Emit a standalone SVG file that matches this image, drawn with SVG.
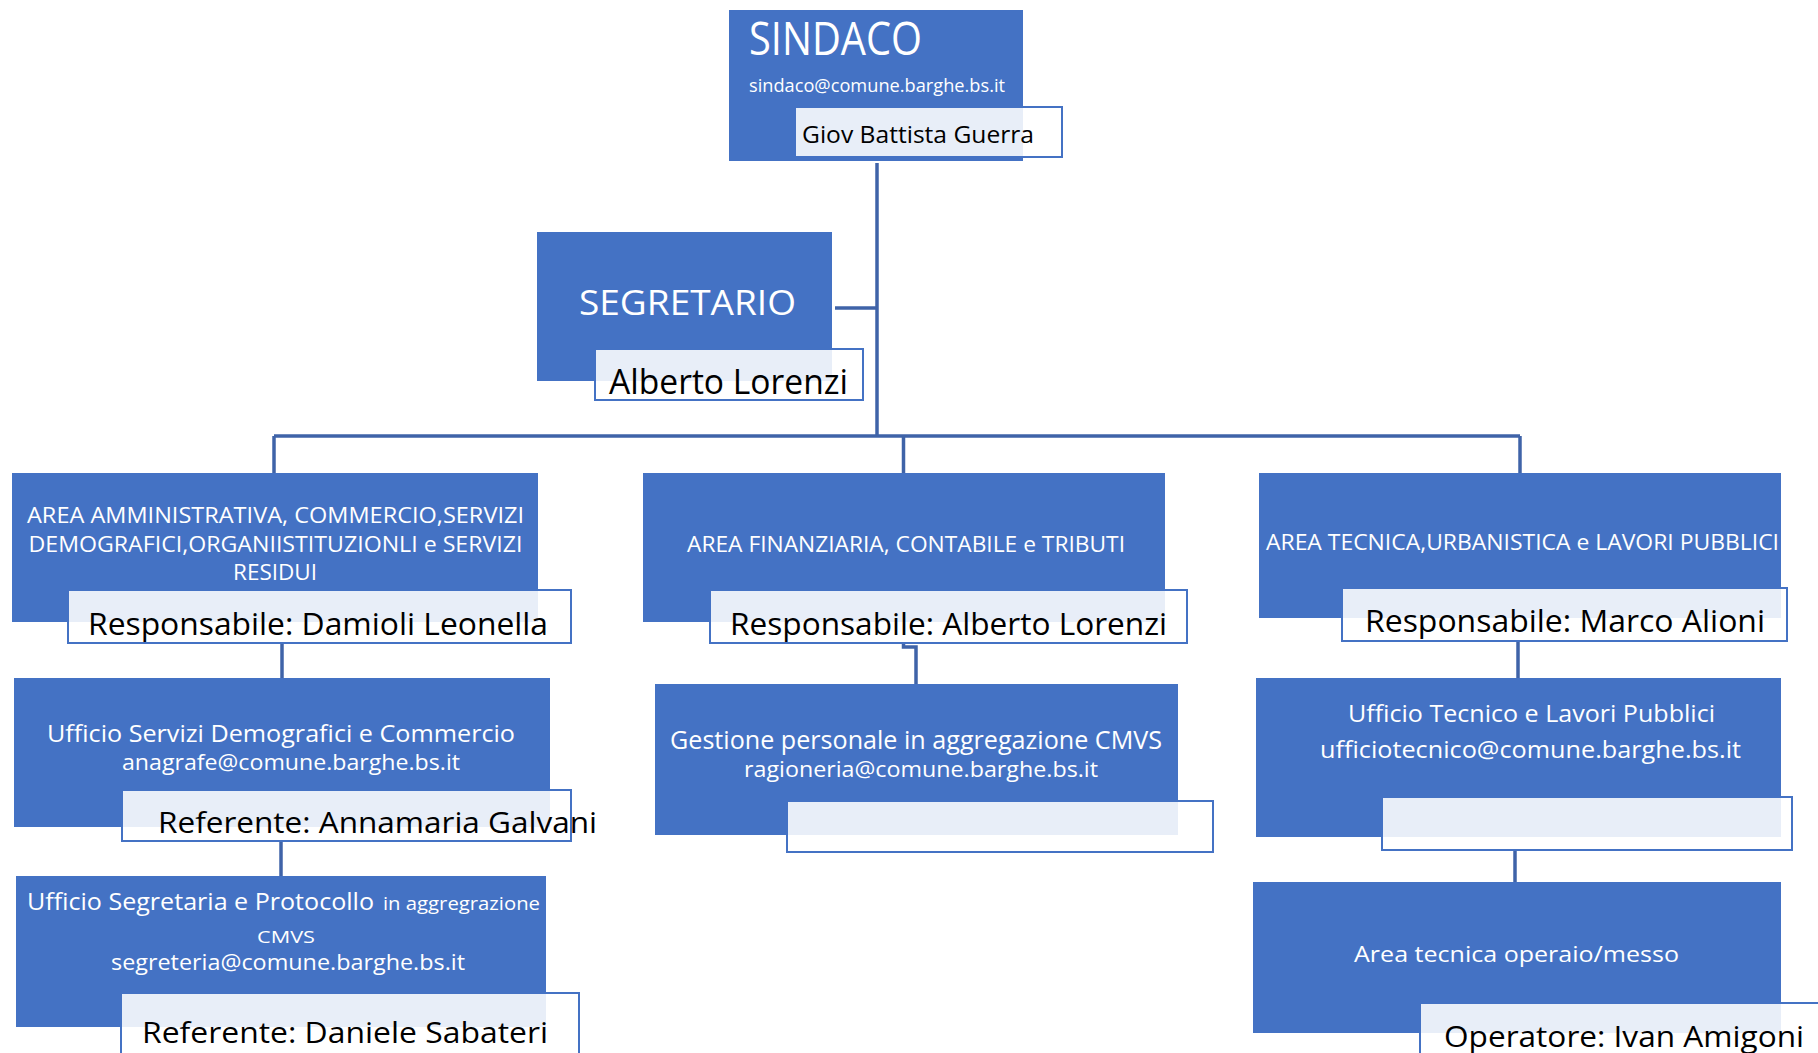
<svg xmlns="http://www.w3.org/2000/svg" width="1818" height="1053" viewBox="0 0 1818 1053">
<style>
.box{fill:#4472C4;}
.nb{fill:#ffffff;fill-opacity:0.88;stroke:#4472C4;stroke-width:2;}
.w{fill:#ffffff;font-family:"Open Sans","Liberation Sans",sans-serif;}
.k{fill:#000000;font-family:"Open Sans","Liberation Sans",sans-serif;}
.c{fill:none;stroke:#3F63A8;stroke-width:3.5;}
</style>
<rect width="1818" height="1053" fill="#ffffff"/>
<g id="connectors">
<path class="c" d="M877 163 V436"/>
<path class="c" d="M835 308 H877"/>
<path class="c" d="M274 436 H1520"/>
<path class="c" d="M274 436 V474"/>
<path class="c" d="M903.5 436 V474"/>
<path class="c" d="M1520 436 V474"/>
<path class="c" d="M282 643 V679"/>
<path class="c" d="M281 841 V877"/>
<path class="c" d="M903.5 643 V647 H916 V685"/>
<path class="c" d="M1518 641 V679"/>
<path class="c" d="M1515 850 V883"/>
</g>
<g id="sindaco">
<rect class="box" x="729" y="10" width="294" height="151"/>
<text class="w" x="749" y="55" font-size="45" textLength="173" lengthAdjust="spacingAndGlyphs">SINDACO</text>
<text class="w" x="749" y="92" font-size="19" textLength="256" lengthAdjust="spacingAndGlyphs">sindaco@comune.barghe.bs.it</text>
<rect class="nb" x="795" y="107" width="267" height="50"/>
<text class="k" x="802" y="143" font-size="24" textLength="232" lengthAdjust="spacingAndGlyphs">Giov Battista Guerra</text>
</g>
<g id="segretario">
<rect class="box" x="537" y="232" width="295" height="149"/>
<text class="w" x="579" y="315" font-size="35" textLength="217" lengthAdjust="spacingAndGlyphs">SEGRETARIO</text>
<rect class="nb" x="595" y="349" width="268" height="51"/>
<text class="k" x="609" y="394" font-size="35" textLength="239" lengthAdjust="spacingAndGlyphs">Alberto Lorenzi</text>
</g>
<g id="area-amministrativa">
<rect class="box" x="12" y="473" width="526" height="149"/>
<text class="w" x="27" y="523" font-size="21" textLength="497" lengthAdjust="spacingAndGlyphs">AREA AMMINISTRATIVA, COMMERCIO,SERVIZI</text>
<text class="w" x="28.5" y="552" font-size="21" textLength="494" lengthAdjust="spacingAndGlyphs">DEMOGRAFICI,ORGANIISTITUZIONLI e SERVIZI</text>
<text class="w" x="233" y="580" font-size="21" textLength="84" lengthAdjust="spacingAndGlyphs">RESIDUI</text>
<rect class="nb" x="68" y="590" width="503" height="53"/>
<text class="k" x="88" y="635" font-size="31" textLength="460" lengthAdjust="spacingAndGlyphs">Responsabile: Damioli Leonella</text>
</g>
<g id="area-finanziaria">
<rect class="box" x="643" y="473" width="522" height="149"/>
<text class="w" x="687" y="552" font-size="21" textLength="438" lengthAdjust="spacingAndGlyphs">AREA FINANZIARIA, CONTABILE e TRIBUTI</text>
<rect class="nb" x="710" y="590" width="477" height="53"/>
<text class="k" x="730" y="635" font-size="31" textLength="437" lengthAdjust="spacingAndGlyphs">Responsabile: Alberto Lorenzi</text>
</g>
<g id="area-tecnica">
<rect class="box" x="1259" y="473" width="522" height="145"/>
<text class="w" x="1266" y="550" font-size="21" textLength="513" lengthAdjust="spacingAndGlyphs">AREA TECNICA,URBANISTICA e LAVORI PUBBLICI</text>
<rect class="nb" x="1342" y="588" width="445" height="53"/>
<text class="k" x="1365" y="632" font-size="31" textLength="400" lengthAdjust="spacingAndGlyphs">Responsabile: Marco Alioni</text>
</g>
<g id="ufficio-demografici">
<rect class="box" x="14" y="678" width="536" height="149"/>
<text class="w" x="47" y="742" font-size="23" textLength="468" lengthAdjust="spacingAndGlyphs">Ufficio Servizi Demografici e Commercio</text>
<text class="w" x="122" y="770" font-size="21" textLength="338" lengthAdjust="spacingAndGlyphs">anagrafe@comune.barghe.bs.it</text>
<rect class="nb" x="122" y="790" width="449" height="51"/>
<text class="k" x="158" y="833" font-size="30" textLength="439" lengthAdjust="spacingAndGlyphs">Referente: Annamaria Galvani</text>
</g>
<g id="gestione-personale">
<rect class="box" x="655" y="684" width="523" height="151"/>
<text class="w" x="670" y="749" font-size="25" textLength="492" lengthAdjust="spacingAndGlyphs">Gestione personale in aggregazione CMVS</text>
<text class="w" x="744" y="777" font-size="22" textLength="354" lengthAdjust="spacingAndGlyphs">ragioneria@comune.barghe.bs.it</text>
<rect class="nb" x="787" y="801" width="426" height="51"/>
</g>
<g id="ufficio-tecnico">
<rect class="box" x="1256" y="678" width="525" height="159"/>
<text class="w" x="1348" y="722" font-size="23" textLength="367" lengthAdjust="spacingAndGlyphs">Ufficio Tecnico e Lavori Pubblici</text>
<text class="w" x="1320" y="758" font-size="23" textLength="421" lengthAdjust="spacingAndGlyphs">ufficiotecnico@comune.barghe.bs.it</text>
<rect class="nb" x="1382" y="797" width="410" height="53"/>
</g>
<g id="ufficio-segreteria">
<rect class="box" x="16" y="876" width="530" height="151"/>
<text class="w" x="27" y="910" font-size="23" textLength="347" lengthAdjust="spacingAndGlyphs">Ufficio Segretaria e Protocollo</text>
<text class="w" x="383" y="910" font-size="19" textLength="157" lengthAdjust="spacingAndGlyphs">in aggregrazione</text>
<text class="w" x="257" y="943" font-size="17" textLength="58" lengthAdjust="spacingAndGlyphs">CMVS</text>
<text class="w" x="111" y="970" font-size="21" textLength="354" lengthAdjust="spacingAndGlyphs">segreteria@comune.barghe.bs.it</text>
<rect class="nb" x="121" y="993" width="458" height="80"/>
<text class="k" x="142" y="1043" font-size="30" textLength="406" lengthAdjust="spacingAndGlyphs">Referente: Daniele Sabateri</text>
</g>
<g id="area-operaio">
<rect class="box" x="1253" y="882" width="528" height="151"/>
<text class="w" x="1354" y="962" font-size="21" textLength="325" lengthAdjust="spacingAndGlyphs">Area tecnica operaio/messo</text>
<rect class="nb" x="1420" y="1003" width="420" height="70"/>
<text class="k" x="1444" y="1047" font-size="30" textLength="360" lengthAdjust="spacingAndGlyphs">Operatore: Ivan Amigoni</text>
</g>
</svg>
